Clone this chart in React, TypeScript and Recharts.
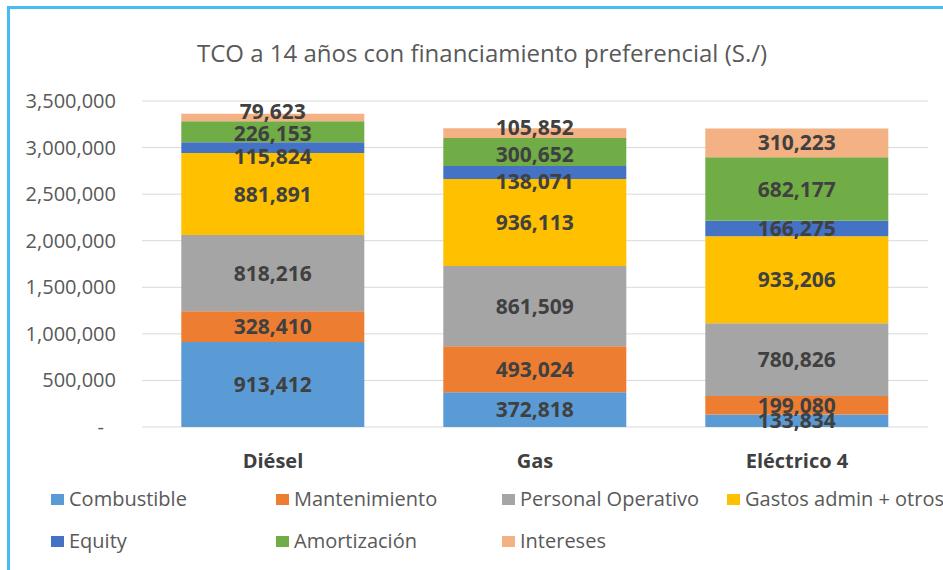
import React from "react";
import { BarChart, Bar, XAxis, YAxis, CartesianGrid, LabelList } from "recharts";

const CATEGORIES = ["Diésel", "Gas", "Eléctrico 4"];
const COMBUSTIBLE = [913412, 372818, 133834];
const MANTENIMIENTO = [328410, 493024, 199080];
const PERSONAL = [818216, 861509, 780826];
const GASTOS = [881891, 936113, 933206];
const EQUITY = [115824, 138071, 166275];
const AMORTIZACION = [226153, 300652, 682177];
const INTERESES = [79623, 105852, 310223];
const Y_TICKS = [0, 500000, 1000000, 1500000, 2000000, 2500000, 3000000, 3500000];

const SERIES = [
  { key: "Combustible", values: COMBUSTIBLE, color: "#5B9BD5" },
  { key: "Mantenimiento", values: MANTENIMIENTO, color: "#ED7D31" },
  { key: "Personal Operativo", values: PERSONAL, color: "#A5A5A5" },
  { key: "Gastos admin + otros", values: GASTOS, color: "#FFC000" },
  { key: "Equity", values: EQUITY, color: "#4472C4" },
  { key: "Amortización", values: AMORTIZACION, color: "#70AD47" },
  { key: "Intereses", values: INTERESES, color: "#F4B183" },
];
// legend reads row by row, 4 per row
const LEGEND_ORDER = SERIES;

const data = CATEGORIES.map((name, i) => {
  const row: Record<string, string | number> = { name };
  SERIES.forEach((s) => (row[s.key] = s.values[i]));
  return row;
});

const FONT = "'Open Sans', sans-serif";
const fmt = (v: number) => v.toLocaleString("en-US");

function YTick({ x, y, payload }: any) {
  const isZero = payload.value === 0;
  return (
    <text x={isZero ? x - 12 : x} y={y} dy="0.35em" textAnchor="end" fill="#595959" fontSize={20} fontFamily={FONT}>
      {isZero ? "-" : fmt(payload.value)}
    </text>
  );
}

// Excel pushes labels of thin segments apart a bit; mimic that
function segLabel(seriesKey: string) {
  return (p: any) => {
    const h = Math.abs(Number(p.height));
    let dy = 0;
    if (seriesKey === "Intereses" && h < 15) dy = -6;
    if (seriesKey === "Equity" && h < 14) dy = 9;
    if (seriesKey === "Amortización" && h < 30) dy = 2;
    const cx = Number(p.x) + Number(p.width) / 2;
    const cy = Number(p.y) + Number(p.height) / 2 + dy;
    return (
      <text x={cx} y={cy} dy="0.36em" textAnchor="middle" fill="#404040" fontSize={21} fontWeight="bold" fontFamily={FONT}>
        {fmt(Number(p.value))}
      </text>
    );
  };
}

export default function App() {
  return (
    <div style={{ position: "absolute", left: 0, top: 0, width: 943, height: 570, background: "#fff", overflow: "hidden" }}>
      <div style={{ position: "absolute", left: 7, top: 6, width: 960, height: 600, borderLeft: "3px solid #45BDEE", borderTop: "3px solid #45BDEE" }} />
      <div style={{ position: "absolute", left: 0, width: 964, top: 41, lineHeight: "24px", textAlign: "center", fontFamily: FONT, fontSize: 24, color: "#595959", whiteSpace: "nowrap" }}>
        TCO a 14 años con financiamiento preferencial (S./)
      </div>
      <div style={{ position: "absolute", left: 0, top: 0 }}>
        <BarChart width={943} height={570} data={data} margin={{ top: 101, right: 15, bottom: 0, left: 0 }} barCategoryGap="15%">
          <CartesianGrid vertical={false} stroke="#D9D9D9" />
          <XAxis dataKey="name" axisLine={false} tickLine={false} tickSize={0} tickMargin={27} height={143}
            tick={{ fontSize: 20, fontWeight: "bold", fill: "#404040", fontFamily: FONT }} />
          <YAxis width={142} domain={[0, 3500000]} ticks={Y_TICKS} axisLine={false} tickLine={false} tickSize={0} tickMargin={26} tick={<YTick />} />
          {SERIES.map((s) => (
            <Bar key={s.key} dataKey={s.key} stackId="a" fill={s.color} isAnimationActive={false}>
              <LabelList dataKey={s.key} content={segLabel(s.key)} />
            </Bar>
          ))}
        </BarChart>
      </div>
      <div style={{ position: "absolute", left: 51, top: 487, display: "grid", gridTemplateColumns: "225px 226px 225px 240px", rowGap: 18, fontFamily: FONT, fontSize: 20, lineHeight: "24px", color: "#595959" }}>
        {LEGEND_ORDER.map((s) => (
          <div key={s.key} style={{ display: "flex", alignItems: "center", whiteSpace: "nowrap", height: 24 }}>
            <span style={{ width: 13, height: 11, background: s.color, marginRight: 5, display: "inline-block", flex: "none" }} />
            {s.key}
          </div>
        ))}
      </div>
    </div>
  );
}
